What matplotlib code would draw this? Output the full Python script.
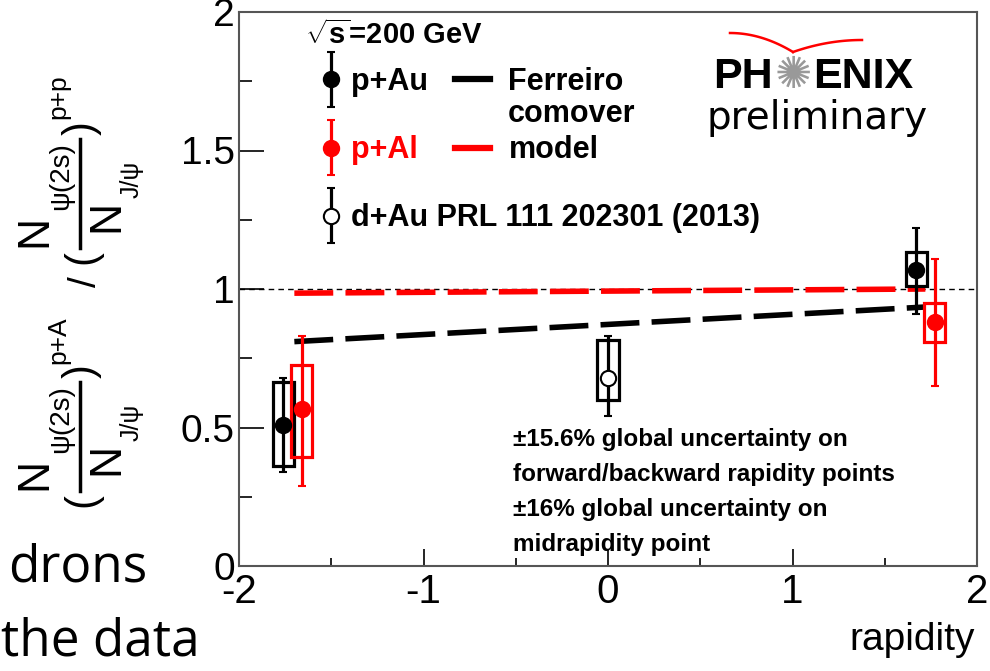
"""psi(2S)/J/psi double ratio vs rapidity, PHENIX preliminary style."""

import numpy as np
import matplotlib

matplotlib.use("Agg")
import matplotlib.pyplot as plt
from matplotlib.patches import Rectangle
from matplotlib.lines import Line2D
from matplotlib.container import ErrorbarContainer
from matplotlib.legend_handler import HandlerErrorbar

plt.rcParams["font.family"] = ["Liberation Sans", "DejaVu Sans"]
plt.rcParams["mathtext.fontset"] = "custom"
plt.rcParams["mathtext.rm"] = "Liberation Sans"
plt.rcParams["mathtext.it"] = "Liberation Sans:italic"
plt.rcParams["mathtext.bf"] = "Liberation Sans:bold"
plt.rcParams["axes.unicode_minus"] = False

# p+Au (backward, forward)
pau_x = [-1.76, 1.67]
pau_y = [0.51, 1.07]
pau_stat_lo = [0.34, 0.91]
pau_stat_hi = [0.68, 1.22]
pau_sys_lo = [0.36, 1.01]
pau_sys_hi = [0.665, 1.135]

# p+Al
pal_x = [-1.66, 1.77]
pal_y = [0.565, 0.88]
pal_stat_lo = [0.29, 0.65]
pal_stat_hi = [0.83, 1.11]
pal_sys_lo = [0.395, 0.81]
pal_sys_hi = [0.725, 0.95]

# d+Au PRL 111 202301
dau_x = [0.0]
dau_y = [0.68]
dau_stat_lo = [0.54]
dau_stat_hi = [0.83]
dau_sys_lo = [0.60]
dau_sys_hi = [0.815]

box_halfwidth = 0.057

# Ferreiro comover model
model_x = [-1.70, 1.72]
model_pau = [0.81, 0.935]
model_pal = [0.985, 1.0]

RED = "#ff0000"
W, H = 990, 671

fig = plt.figure(figsize=(9.9, 6.71), dpi=100)
ax = fig.add_axes([239 / W, 105 / H, 738 / W, 554 / H])


def draw_series(x, y, lo, hi, slo, shi, color, face):
    x, y = np.array(x), np.array(y)
    lo, hi = np.array(lo), np.array(hi)
    for xi, a, b in zip(x, slo, shi):
        ax.add_patch(Rectangle((xi - box_halfwidth, a), 2 * box_halfwidth, b - a,
                               fill=False, edgecolor=color, lw=2.3, zorder=3))
    return ax.errorbar(x, y, yerr=[y - lo, hi - y], fmt="o", color=color,
                       mfc=face, mec=color, mew=1.5, ms=11, elinewidth=2.3,
                       capsize=3, capthick=2.3, zorder=4)


ax.axhline(1.0, color="black", lw=1.0, dashes=(4, 3), zorder=1)
ax.plot(model_x, model_pau, color="black", lw=4, dashes=(7, 2.2), zorder=2)
ax.plot(model_x, model_pal, color=RED, lw=4, dashes=(7, 2.2), zorder=2)

h_pau = draw_series(pau_x, pau_y, pau_stat_lo, pau_stat_hi, pau_sys_lo, pau_sys_hi, "black", "black")
h_pal = draw_series(pal_x, pal_y, pal_stat_lo, pal_stat_hi, pal_sys_lo, pal_sys_hi, RED, RED)
h_dau = draw_series(dau_x, dau_y, dau_stat_lo, dau_stat_hi, dau_sys_lo, dau_sys_hi, "black", "white")

ax.set_xlim(-2, 2)
ax.set_ylim(0, 2)
ax.set_xticks([-2, -1, 0, 1, 2])
ax.set_xticklabels(["-2", "-1", "0", "1", "2"])
ax.set_xticks(np.arange(-1.5, 2, 1.0), minor=True)
ax.set_yticks([0, 0.5, 1, 1.5, 2])
ax.set_yticklabels(["0", "0.5", "1", "1.5", "2"])
ax.set_yticks(np.arange(0.25, 2, 0.5), minor=True)
ax.tick_params(axis="y", which="major", direction="in", length=18, width=1.2, labelsize=28, pad=3)
ax.tick_params(axis="y", which="minor", direction="in", length=9, width=1.2)
ax.tick_params(axis="x", which="major", direction="in", length=12, width=1.2, labelsize=29, pad=5)
ax.tick_params(axis="x", which="minor", direction="in", length=6, width=1.2)
for sp in ax.spines.values():
    sp.set_color("#555555")
    sp.set_linewidth(1.5)

fig.text(975 / W, 1 - 640 / H, "rapidity", ha="right", va="center", fontsize=28)


# y label: (N_psi(2s)/N_J/psi)^{p+A} / (N_psi(2s)/N_J/psi)^{p+p}, laid out by hand
def vtext(px, py, s, size, **kw):
    fig.text(px / W, 1 - py / H, s, rotation=90, ha="center", va="center", fontsize=size, **kw)


def ratio_block(top, sup):
    # top = pixel row of the closing parenthesis
    vtext(82, top - 2, ")", 30)
    vtext(82, top + 127, "(", 30)
    vtext(35, top + 101, "N", 32)
    vtext(61, top + 46, "\u03c8(2s)", 20)
    vtext(107, top + 86, "N", 32)
    vtext(132, top + 49, "J/\u03c8", 18)
    vtext(58, top - 33, sup, 19)
    fig.add_artist(Line2D([80 / W, 80 / W], [1 - (top + 9) / H, 1 - (top + 118) / H],
                          color="black", lw=2.5))


ratio_block(130, "p+p")
ratio_block(373, "p+A")
vtext(86, 282, "/", 28)

# legends
leg1 = ax.legend([h_pau, h_pal, h_dau], ["p+Au", "p+Al", "d+Au PRL 111 202301 (2013)"],
                 handler_map={ErrorbarContainer: HandlerErrorbar(yerr_size=0.9)},
                 loc="upper left", bbox_to_anchor=((316 - 239) / 738, (566 - 67) / 554),
                 frameon=False, borderpad=0, borderaxespad=0, handlelength=1.0,
                 handletextpad=0.15, labelspacing=1.25, numpoints=1,
                 prop={"weight": "bold", "size": 22})
ax.add_artist(leg1)
leg1.get_texts()[1].set_color(RED)

model_handles = [Line2D([], [], color="black", lw=4.5), Line2D([], [], color=RED, lw=4.5)]
ax.legend(model_handles, ["Ferreiro", "model"], loc="upper left",
          bbox_to_anchor=((455 - 239) / 738, (566 - 67) / 554), frameon=False,
          borderpad=0, borderaxespad=0, handlelength=1.15, handletextpad=0.6,
          labelspacing=1.25, prop={"weight": "bold", "size": 22})
fig.text(508 / W, 1 - 114 / H, "comover", ha="left", va="center", fontsize=22, weight="bold")

fig.text(305 / W, 1 - 35 / H, r"$\mathbf{\sqrt{s}}$=200 GeV", ha="left", va="center",
         fontsize=21, weight="bold")

note = ("\u00b115.6% global uncertainty on\nforward/backward rapidity points\n"
        "\u00b116% global uncertainty on\nmidrapidity point")
fig.text(513 / W, 1 - 428 / H, note, ha="left", va="top", fontsize=17.5, weight="bold",
         linespacing=1.66)

# PHENIX logo
fig.text(773 / W, 1 - 77 / H, "PH", ha="right", va="center", fontsize=31, weight="bold")
fig.text(813 / W, 1 - 77 / H, "ENIX", ha="left", va="center", fontsize=31, weight="bold")
fig.text(793 / W, 1 - 76 / H, "\u273a", ha="center", va="center", fontsize=32,
         color="#999999", family="DejaVu Sans")
arc_l = np.linspace(0, 1, 30)
fig.add_artist(Line2D((730 + 63 * arc_l) / W, 1 - (33 + 19 * arc_l ** 2) / H,
                      color=RED, lw=1.8))
fig.add_artist(Line2D((793 + 69 * arc_l) / W, 1 - (52 - 12 * (1 - (1 - arc_l) ** 2)) / H,
                      color=RED, lw=1.8))
fig.text(817 / W, 1 - 118 / H, "preliminary", ha="center", va="center", fontsize=28,
         family="DejaVu Sans")

# slide text behind the plot
fig.text(147 / W, 1 - 581 / H, "drons", ha="right", va="baseline", fontsize=37,
         family="Open Sans")
fig.text(200 / W, 1 - 655 / H, "the data", ha="right", va="baseline", fontsize=37,
         family="Open Sans")

fig.savefig("out.png", dpi=100)
